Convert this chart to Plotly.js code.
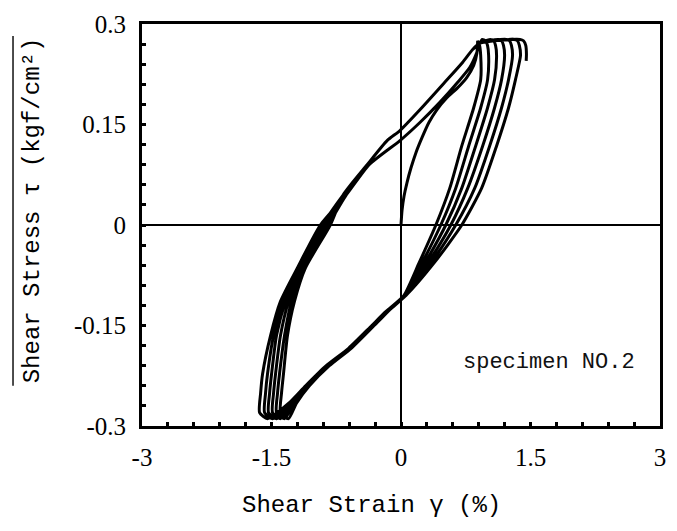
<!DOCTYPE html>
<html><head><meta charset="utf-8">
<script src="https://cdn.plot.ly/plotly-3.0.1.min.js"></script>
<style>html,body{margin:0;padding:0;background:#fff}#chart{width:677px;height:531px}</style>
</head><body><div id="chart"></div>
<script>
// ---- tick labels ----
const xTickVals = [-3, -1.5, 0, 1.5, 3];
const xTickText = ['-3', '-1.5', '0', '1.5', '3'];
const yTickVals = [-0.3, -0.15, 0, 0.15, 0.3];
const yTickText = ['-0.3', '-0.15', '0', '0.15', '0.3'];

// ---- virgin loading curve (strain %, stress kgf/cm2) ----
const virginStrain = [0, 0.012, 0.035, 0.069, 0.115, 0.173, 0.242, 0.323, 0.415, 0.531, 0.657, 0.761, 0.842, 0.880, 0.888];
const virginStress = [0, 0.022, 0.043, 0.063, 0.085, 0.108, 0.130, 0.153, 0.172, 0.190, 0.205, 0.220, 0.238, 0.257, 0.275];

// ---- unloading branches from each peak (fan on the right) ----
const fanStress = [0.275, 0.268, 0.253, 0.217, 0.175, 0.118, 0.055, 0.000, -0.057, -0.105];
const fanStrain = [
  [0.888, 0.910, 0.923, 0.923, 0.842, 0.704, 0.565, 0.404, 0.208, 0.035],
  [0.980, 1.002, 1.015, 1.003, 0.923, 0.784, 0.634, 0.461, 0.242, 0.035],
  [1.073, 1.095, 1.107, 1.084, 1.003, 0.865, 0.704, 0.519, 0.277, 0.046],
  [1.165, 1.187, 1.200, 1.165, 1.084, 0.946, 0.773, 0.577, 0.311, 0.046],
  [1.257, 1.279, 1.292, 1.246, 1.165, 1.027, 0.854, 0.634, 0.346, 0.058],
  [1.349, 1.371, 1.384, 1.326, 1.246, 1.107, 0.934, 0.704, 0.381, 0.058]
];

// ---- common lower unloading path towards negative peak ----
const lowerStress = [-0.129, -0.150, -0.184, -0.210, -0.240, -0.266, -0.289];
const lowerStrain = [
  [-0.150, -0.311, -0.577, -0.830, -1.061, -1.211, -1.303],
  [-0.173, -0.334, -0.600, -0.854, -1.084, -1.234, -1.349],
  [-0.150, -0.311, -0.580, -0.840, -1.075, -1.245, -1.396],
  [-0.173, -0.334, -0.603, -0.860, -1.095, -1.265, -1.442],
  [-0.150, -0.315, -0.585, -0.848, -1.088, -1.280, -1.488],
  [-0.173, -0.338, -0.607, -0.866, -1.105, -1.300, -1.546]
];

// ---- reloading branches from the negative tips ----
const ascStress = [-0.280, -0.251, -0.222, -0.165, -0.114, -0.064, 0.000];
const ascStrain = [
  [-1.396, -1.384, -1.361, -1.315, -1.234, -1.107, -0.819],
  [-1.442, -1.430, -1.407, -1.349, -1.269, -1.130, -0.842],
  [-1.488, -1.476, -1.453, -1.396, -1.303, -1.153, -0.865],
  [-1.534, -1.522, -1.499, -1.442, -1.338, -1.176, -0.888],
  [-1.580, -1.569, -1.546, -1.476, -1.361, -1.188, -0.911],
  [-1.638, -1.626, -1.603, -1.511, -1.396, -1.200, -0.934]
];

// ---- two reloading tracks in the upper-left part (lens) ----
const upperTrackStrain = [-0.669, -0.392, -0.161, -0.012, 0.219, 0.507, 0.715, 0.830, 0.911];
const upperTrackStress = [0.045, 0.090, 0.126, 0.141, 0.172, 0.213, 0.243, 0.262, 0.271];
const lowerTrackStrain = [-0.634, -0.369, -0.012, 0.219, 0.450, 0.657, 0.796, 0.877, 0.911];
const lowerTrackStress = [0.045, 0.090, 0.126, 0.153, 0.183, 0.213, 0.235, 0.257, 0.271];

// ---- top arch before each following peak ----
const archStrain = [0.940, 1.033, 1.125, 1.217, 1.309, 1.379];
const archStress = [0.277, 0.277, 0.277, 0.277, 0.277, 0.277];

// ---- last peak with its end hook ----
const endStrain = [1.419, 1.445, 1.453, 1.450];
const endStress = [0.275, 0.268, 0.255, 0.245];

// build the recorded path
let xs = [].concat(virginStrain), ys = [].concat(virginStress);
for (let k = 0; k < fanStrain.length; k++) {
  xs = xs.concat(fanStrain[k]); ys = ys.concat(fanStress);
  xs = xs.concat(lowerStrain[k]); ys = ys.concat(lowerStress);
  xs = xs.concat(ascStrain[k]); ys = ys.concat(ascStress);
  if (k % 2 === 0) { xs = xs.concat(upperTrackStrain); ys = ys.concat(upperTrackStress); }
  else { xs = xs.concat(lowerTrackStrain); ys = ys.concat(lowerTrackStress); }
  xs.push(archStrain[k]); ys.push(archStress[k]);
}
xs = xs.concat(endStrain); ys = ys.concat(endStress);

const numFont = '"Liberation Serif", "Times New Roman", serif';
const monoFont = '"Liberation Mono", "DejaVu Sans Mono", monospace';

const trace = {
  x: xs, y: ys, type: 'scatter', mode: 'lines',
  line: {color: '#000', width: 3, shape: 'spline', smoothing: 0.6},
  hoverinfo: 'skip', showlegend: false
};

const axisCommon = {
  showline: true, linecolor: '#000', linewidth: 3, mirror: true,
  showgrid: false, zeroline: true, zerolinecolor: '#000', zerolinewidth: 2,
  ticks: 'inside', ticklen: 4, tickwidth: 3, tickcolor: '#000',
  tickfont: {family: numFont, size: 25, color: '#000'}
};

const layout = {
  width: 677, height: 531,
  margin: {l: 142, r: 17, t: 24, b: 105},
  paper_bgcolor: '#fff', plot_bgcolor: '#fff',
  xaxis: Object.assign({}, axisCommon, {
    range: [-3, 3], tickmode: 'array', tickvals: xTickVals, ticktext: xTickText,
    ticklabelstandoff: 7,
    minor: {tick0: 0, dtick: 0.3, ticks: 'inside', ticklen: 4, tickwidth: 3, tickcolor: '#000'}
  }),
  yaxis: Object.assign({}, axisCommon, {
    range: [-0.3, 0.3], tickmode: 'array', tickvals: yTickVals, ticktext: yTickText,
    ticklabelstandoff: 8,
    minor: {tick0: 0, dtick: 0.03, ticks: 'inside', ticklen: 4, tickwidth: 3, tickcolor: '#000'}
  }),
  annotations: [
    {text: 'Shear Strain γ (%)', xref: 'paper', yref: 'paper', x: 0.444, y: -0.197,
     showarrow: false, xanchor: 'center', yanchor: 'middle',
     font: {family: monoFont, size: 24, color: '#000'}},
    {text: 'Shear Stress τ (kgf/cm²)', xref: 'paper', yref: 'paper', x: -0.212, y: 0.537,
     textangle: -90, showarrow: false, xanchor: 'center', yanchor: 'middle',
     font: {family: monoFont, size: 24, color: '#000'}},
    {text: 'specimen NO.2', xref: 'paper', yref: 'paper', x: 0.786, y: 0.157,
     showarrow: false, xanchor: 'center', yanchor: 'middle',
     font: {family: monoFont, size: 22, color: '#111'}}
  ],
  shapes: [
    {type: 'line', xref: 'paper', yref: 'paper', x0: -0.249, x1: -0.249, y0: 0.10, y1: 0.97,
     line: {color: '#111', width: 1.5}}
  ]
};

Plotly.newPlot('chart', [trace], layout, {staticPlot: true, displayModeBar: false});
</script>
</body></html>
